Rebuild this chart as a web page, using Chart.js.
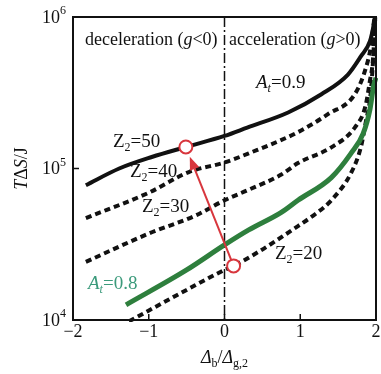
<!DOCTYPE html>
<html>
<head>
<meta charset="utf-8">
<script src="https://cdn.jsdelivr.net/npm/chart.js@4/dist/chart.umd.min.js"></script>
<style>
  body { margin: 0; background: #fff; }
</style>
</head>
<body>
<canvas id="grafico" width="381" height="374"></canvas>
<script>
// T*dS versus db/dg,2 for Z2 = 20..50
const z50X = [-1.83, -1.39, -0.96, -0.51, 0, 0.3, 0.84, 1.28, 1.63, 1.80, 1.92, 1.97, 1.985];
const z50Y = [77600, 100000, 119100, 138700, 164100, 186200, 234400, 309000, 416900, 549500, 691800, 891300, 1000000];

const z40X = [-1.83, -1.0, -0.47, 0, 0.32, 0.97, 1.37, 1.72, 1.87, 1.93, 1.98];
const z40Y = [47100, 69200, 94800, 109600, 125900, 173800, 229100, 309000, 467700, 631000, 1000000];

const z30X = [-1.83, -1.0, -0.38, 0, 0.32, 0.75, 0.97, 1.41, 1.72, 1.86, 1.92, 1.96, 1.99];
const z30Y = [24200, 37200, 49000, 61700, 72400, 91200, 108600, 138000, 186200, 257000, 380200, 524800, 1000000];

const at08X = [-1.30, -0.5, 0, 0.32, 0.75, 0.97, 1.41, 1.67, 1.83, 1.92, 1.97, 2.0];
const at08Y = [12600, 21400, 31300, 39300, 51300, 61700, 87100, 125900, 169800, 245500, 354800, 398100];

const z20X = [-1.26, -0.5, 0, 0.12, 0.45, 0.67, 0.97, 1.2, 1.41, 1.67, 1.80, 1.87, 1.92, 1.96, 1.99];
const z20Y = [9800, 15800, 21400, 22750, 28200, 33100, 41700, 50100, 61700, 93300, 138000, 208900, 281800, 501200, 1000000];

// arrow from Z2=20 to Z2=50 at fixed A_t
const arrowFrom = [0.12, 22750];
const arrowTo = [-0.51, 138700];

const xTicks = [-2, -1, 0, 1, 2];
const yTicks = [4, 5, 6]; // powers of ten

const FONT = '"Liberation Serif", "DejaVu Serif", serif';
const GREEN_LINE = '#2e7f3d';
const GREEN_TEXT = '#3b9a7b';
const RED = '#d8363d';

function pts(xs, ys) {
  return xs.map((x, i) => ({ x: x, y: ys[i] }));
}

function serie(xs, ys, color, width, dash) {
  return {
    data: pts(xs, ys),
    borderColor: color,
    borderWidth: width,
    borderDash: dash,
    pointRadius: 0,
    cubicInterpolationMode: 'monotone',
    fill: false,
    clip: 2
  };
}

// draws a string made of pieces: [text, 'i' | 'sub' | 'isub' | 'sup' | '']
function texto(ctx, parts, x, y, size, align, color) {
  const medidas = parts.map(p => {
    const st = p[1] || '';
    const small = st.includes('sub') || st.includes('sup');
    const sz = small ? Math.round(size * 0.65) : size;
    const font = (st.includes('i') ? 'italic ' : '') + sz + 'px ' + FONT;
    ctx.font = font;
    return { t: p[0], font: font, w: ctx.measureText(p[0]).width, st: st, sz: sz };
  });
  const total = medidas.reduce((a, m) => a + m.w, 0);
  let cx = align === 'center' ? x - total / 2 : (align === 'right' ? x - total : x);
  ctx.fillStyle = color || '#111';
  ctx.textBaseline = 'middle';
  ctx.textAlign = 'left';
  medidas.forEach(m => {
    ctx.font = m.font;
    let dy = 0;
    if (m.st.includes('sub')) dy = size * 0.3;
    if (m.st.includes('sup')) dy = -size * 0.38;
    ctx.fillText(m.t, cx, y + dy);
    cx += m.w;
  });
}

const moldura = {
  id: 'moldura',
  beforeDatasetsDraw(chart) {
    const ctx = chart.ctx;
    const xs = chart.scales.x;
    const a = chart.chartArea;
    // dash-dot line at db = 0
    ctx.save();
    ctx.strokeStyle = '#111';
    ctx.lineWidth = 1.5;
    ctx.setLineDash([10, 3, 2, 3]);
    ctx.beginPath();
    const x0 = xs.getPixelForValue(0);
    ctx.moveTo(x0, a.top);
    ctx.lineTo(x0, a.bottom);
    ctx.stroke();
    ctx.restore();
  },
  afterDatasetsDraw(chart) {
    const ctx = chart.ctx;
    const xs = chart.scales.x, ys = chart.scales.y;
    const a = chart.chartArea;
    ctx.save();

    // arrow
    const p1 = { x: xs.getPixelForValue(arrowFrom[0]), y: ys.getPixelForValue(arrowFrom[1]) };
    const p2 = { x: xs.getPixelForValue(arrowTo[0]), y: ys.getPixelForValue(arrowTo[1]) };
    const dx = p2.x - p1.x, dy = p2.y - p1.y;
    const len = Math.hypot(dx, dy);
    const ux = dx / len, uy = dy / len;
    const r = 6.5;
    const tip = { x: p2.x - ux * (r + 4), y: p2.y - uy * (r + 4) };
    const base = { x: tip.x - ux * 13, y: tip.y - uy * 13 };
    ctx.strokeStyle = RED;
    ctx.fillStyle = RED;
    ctx.lineWidth = 2;
    ctx.beginPath();
    ctx.moveTo(p1.x + ux * r, p1.y + uy * r);
    ctx.lineTo(base.x, base.y);
    ctx.stroke();
    ctx.beginPath();
    ctx.moveTo(tip.x, tip.y);
    ctx.lineTo(base.x - uy * 5, base.y + ux * 5);
    ctx.lineTo(base.x + uy * 5, base.y - ux * 5);
    ctx.closePath();
    ctx.fill();

    // open circles
    [p1, p2].forEach(p => {
      ctx.beginPath();
      ctx.arc(p.x, p.y, r, 0, Math.PI * 2);
      ctx.fillStyle = '#fff';
      ctx.fill();
      ctx.lineWidth = 2;
      ctx.strokeStyle = RED;
      ctx.stroke();
    });

    // frame
    ctx.strokeStyle = '#111';
    ctx.lineWidth = 2;
    ctx.strokeRect(a.left, a.top, a.right - a.left, a.bottom - a.top);

    // inward ticks
    ctx.lineWidth = 1.5;
    ctx.beginPath();
    xTicks.forEach(v => {
      const px = xs.getPixelForValue(v);
      ctx.moveTo(px, a.bottom);
      ctx.lineTo(px, a.bottom - 6);
    });
    yTicks.forEach(e => {
      const py = ys.getPixelForValue(Math.pow(10, e));
      ctx.moveTo(a.left, py);
      ctx.lineTo(a.left + 6, py);
    });
    ctx.stroke();

    // tick labels
    xTicks.forEach(v => {
      const s = v < 0 ? '\u2212' + Math.abs(v) : String(v);
      texto(ctx, [[s, '']], xs.getPixelForValue(v), a.bottom + 12, 18, 'center');
    });
    yTicks.forEach(e => {
      const py = ys.getPixelForValue(Math.pow(10, e));
      texto(ctx, [['10', ''], [String(e), 'sup']], a.left - 7, py + 1, 18, 'right');
    });

    // axis titles
    texto(ctx, [['\u0394', 'i'], ['b', 'sub'], ['/', ''], ['\u0394', 'i'], ['g,2', 'sub']],
      xs.getPixelForValue(0), 358, 18, 'center');
    ctx.save();
    ctx.translate(22, ys.getPixelForValue(1e5));
    ctx.rotate(-Math.PI / 2);
    texto(ctx, [['T', 'i'], ['\u0394', ''], ['S', 'i'], ['/J', '']], 0, 0, 18, 'center');
    ctx.restore();

    // annotations
    texto(ctx, [['deceleration (', ''], ['g', 'i'], ['<0)', '']], 85, 40, 18, 'left');
    texto(ctx, [['acceleration (', ''], ['g', 'i'], ['>0)', '']], 229, 40, 18, 'left');
    texto(ctx, [['A', 'i'], ['t', 'isub'], ['=0.9', '']], 256, 83, 19, 'left');
    texto(ctx, [['Z', ''], ['2', 'sub'], ['=50', '']], 113, 142, 19, 'left');
    texto(ctx, [['Z', ''], ['2', 'sub'], ['=40', '']], 130, 172, 19, 'left');
    texto(ctx, [['Z', ''], ['2', 'sub'], ['=30', '']], 142, 207, 19, 'left');
    texto(ctx, [['Z', ''], ['2', 'sub'], ['=20', '']], 275, 254, 19, 'left');
    texto(ctx, [['A', 'i'], ['t', 'isub'], ['=0.8', '']], 88, 284, 19, 'left', GREEN_TEXT);

    ctx.restore();
  }
};

new Chart(document.getElementById('grafico'), {
  type: 'line',
  data: {
    datasets: [
      serie(z50X, z50Y, '#111', 4, []),
      serie(z40X, z40Y, '#111', 4, [6, 4]),
      serie(z30X, z30Y, '#111', 4, [6, 4]),
      serie(at08X, at08Y, GREEN_LINE, 5, []),
      serie(z20X, z20Y, '#111', 4, [6, 4])
    ]
  },
  options: {
    responsive: false,
    animation: false,
    layout: { padding: { top: 17, right: 5, left: 0, bottom: 0 } },
    plugins: { legend: { display: false }, tooltip: { enabled: false } },
    scales: {
      x: {
        type: 'linear', min: -2, max: 2,
        ticks: { display: false },
        grid: { display: false },
        border: { display: false },
        afterFit: s => { s.height = 54; }
      },
      y: {
        type: 'logarithmic', min: 1e4, max: 1e6,
        ticks: { display: false },
        grid: { display: false },
        border: { display: false },
        afterFit: s => { s.width = 73; }
      }
    }
  },
  plugins: [moldura]
});
</script>
</body>
</html>
